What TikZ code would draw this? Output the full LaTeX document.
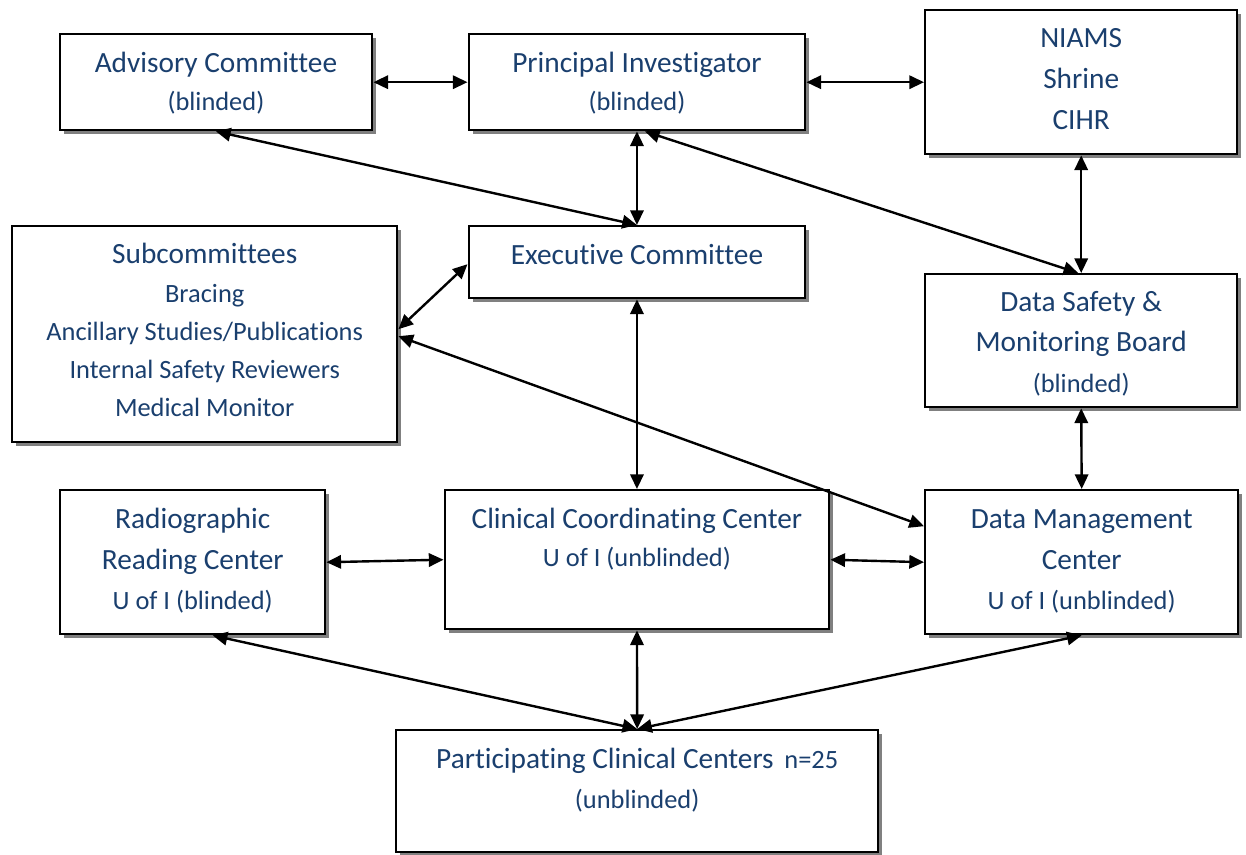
\documentclass[tikz,border=0pt]{standalone}
\usepackage{fontspec}
\setmainfont{Carlito}[Ligatures={NoCommon,NoContextual},RawFeature=-liga,RawFeature=-clig,RawFeature=-calt,RawFeature=-dlig]
\usetikzlibrary{arrows.meta,shadows,calc}
\definecolor{txtblue}{HTML}{1A3F6E}
\newcommand\maintxt{\fontsize{22}{28.5}\selectfont}
\newcommand\subtxt{\fontsize{19.8}{28.5}\selectfont}
% box from (x1,y1) to (x2,y2), y measured downwards
\newcommand\panel[5]{\node[box, minimum width={(#4-#2)*0.75pt}, minimum height={(#5-#3)*0.75pt}] (#1) at (#2,#3) {};}
\newcommand\lines[1]{\begin{tabular}[t]{@{}c@{}}#1\end{tabular}}

\begin{document}
\begin{tikzpicture}[x=0.75pt,y=-0.75pt,
  box/.style={draw=black, line width=1.8pt, fill=white, inner sep=0pt, anchor=north west,
    general shadow={fill=black!50, shadow xshift=3pt, shadow yshift=-3pt}},
  txt/.style={anchor=base, text=txtblue, inner sep=0pt, font=\maintxt},
  link/.style={line width=1.8pt, {Triangle[length=11pt,width=10pt]}-{Triangle[length=11pt,width=10pt]}}]
\useasboundingbox (0,0) rectangle (1246,854);

% boxes
\panel{adv}{58.5}{33}{371}{129}
\panel{pi}{467.5}{33}{804}{129}
\panel{niams}{924}{9}{1236}{153}
\panel{sub}{11}{225}{396}{441}
\panel{exec}{467.5}{225}{804}{297}
\panel{dsmb}{924}{273}{1236}{406}
\panel{rrc}{59}{489}{324}{633}
\panel{ccc}{443.5}{489}{828}{628}
\panel{dmc}{924}{489}{1237}{633}
\panel{pcc}{395}{729}{877}{851}

% box texts
\node[txt] (advT) at (adv.north |- 0,72) {\lines{Advisory Committee\\ \subtxt (blinded)}};
\node[txt] (piT) at (pi.north |- 0,72) {\lines{Principal Investigator\\ \subtxt (blinded)}};
\node[txt] (niamsT) at (niams.north |- 0,47) {\lines{NIAMS\\[2.25pt] Shrine\\[2.25pt] CIHR}};
\node[txt] (subT) at (sub.north |- 0,263) {\lines{Subcommittees\\[0.75pt] \subtxt Bracing\\ \subtxt Ancillary Studies/Publications\\ \subtxt Internal Safety Reviewers\\ \subtxt Medical Monitor}};
\node[txt] (execT) at (exec.north |- 0,264) {Executive Committee};
\node[txt] (dsmbT) at (dsmb.north |- 0,311) {\lines{Data Safety \&\\[1.9pt] Monitoring Board\\[1.9pt] \subtxt (blinded)}};
\node[txt] (rrcT) at (rrc.north |- 0,528) {\lines{Radiographic\\[2.25pt] Reading Center\\[1.5pt] \subtxt U of I (blinded)}};
\node[txt] (cccT) at (ccc.north |- 0,528) {\lines{Clinical Coordinating Center\\ \subtxt U of I (unblinded)}};
\node[txt] (dmcT) at (dmc.north |- 0,528) {\lines{Data Management\\[2.25pt] Center\\[1.5pt] \subtxt U of I (unblinded)}};
\node[txt] (pccT) at (pcc.north |- 0,768) {\lines{Participating Clinical Centers\hspace{3pt} {\subtxt n=25}\\[1.5pt] \subtxt (unblinded)}};

% connectors
\draw[link] (adv.east) -- (pi.west);
\draw[link] (pi.east) -- (niams.west);
\draw[link] (adv.south) -- (exec.north);
\draw[link] (pi.south) -- (exec.north);
\draw[link] ($(pi.south)+(8,0)$) -- ($(dsmb.north)+(-3,0)$);
\draw[link] (niams.south) -- (dsmb.north);
\draw[link] ($(sub.east)+(0,-5)$) -- ($(exec.west)+(0,2)$);
\draw[link] ($(sub.east)+(0,2)$) -- ($(dmc.west)+(0,-36)$);
\draw[link] (exec.south) -- (ccc.north);
\draw[link] (dsmb.south) -- (dmc.north);
\draw[link] (rrc.east) -- (ccc.west);
\draw[link] (ccc.east) -- (dmc.west);
\draw[link] ($(rrc.south)+(20,0)$) -- (pcc.north);
\draw[link] (ccc.south) -- (pcc.north);
\draw[link] (dmc.south) -- (pcc.north);
\end{tikzpicture}
\end{document}
